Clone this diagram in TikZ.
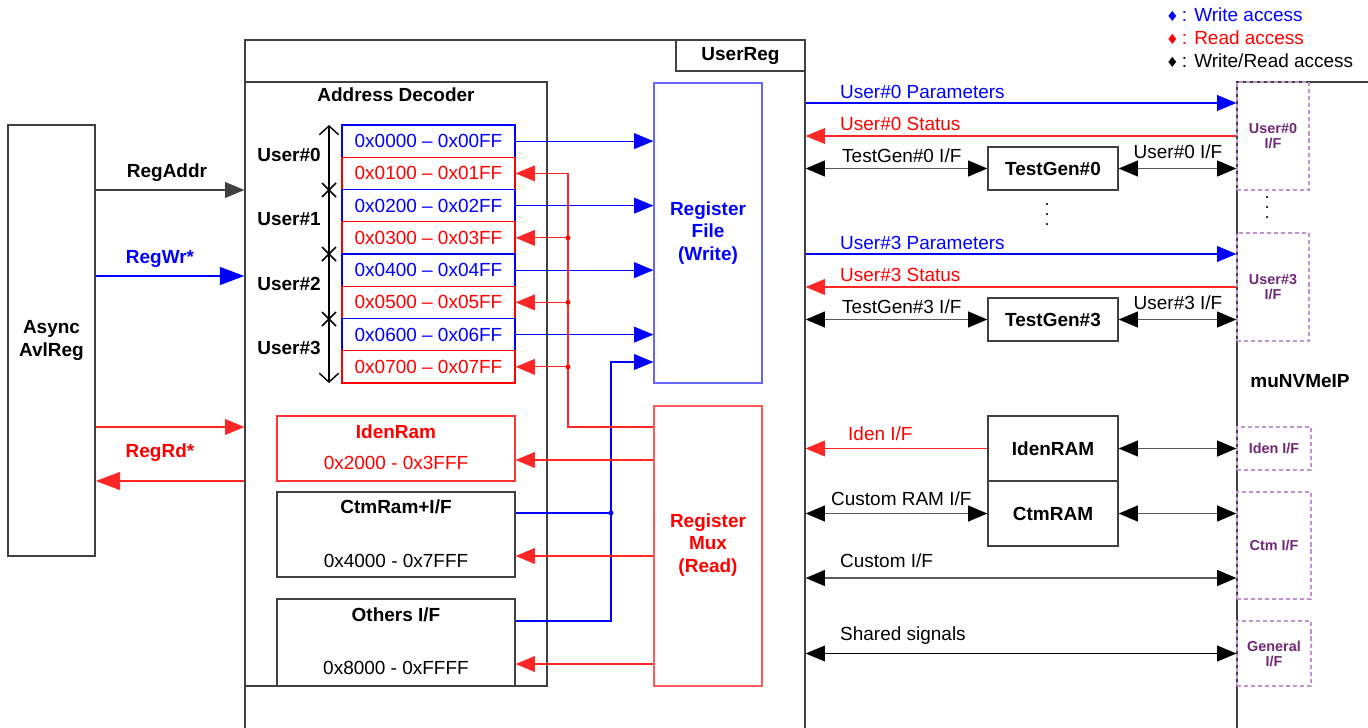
\documentclass[tikz,border=0pt]{standalone}
\usepackage{fontspec}
\setmainfont{Liberation Sans}
\newfontfamily\symfont{DejaVu Sans}
\usetikzlibrary{
    arrows.meta,
    fit
}
\definecolor{wrc}{RGB}{0,0,255}
\definecolor{rdc}{RGB}{255,0,0}
\definecolor{boxc}{RGB}{64,64,64}
\definecolor{busc}{RGB}{90,90,90}
\definecolor{ifc}{RGB}{195,145,210}
\definecolor{iftext}{RGB}{112,40,120}

\tikzset{
    blk/.style={draw=boxc, line width=0.7pt, inner sep=0pt},
    addr/.style={line width=0.7pt, inner sep=0pt},
    ifbox/.style={draw=ifc, dash pattern=on 2.3pt off 1.7pt, line width=0.6pt, inner sep=0pt},
    iflbl/.style={text=iftext, align=center, font=\fontsize{8.2}{8.6}\selectfont\bfseries},
    bl/.style={font=\fontsize{10.8}{13}\selectfont\bfseries},
    ln/.style={draw=black, line width=0.6pt},
    wr/.style={draw=wrc, line width=0.6pt},
    rd/.style={draw=rdc!85, line width=0.6pt},
    thk/.style={line width=1.6pt, >={Triangle[length=14pt,width=10pt]}},
    bus/.style={draw=busc, line width=1.1pt, >={Triangle[length=11pt,width=9pt,color=black]}},
    >={Triangle[length=11pt,width=9pt]}
}

\begin{document}
\begin{tikzpicture}[x=0.02cm,y=-0.02cm,font=\fontsize{10.8}{13}\selectfont]

\path[use as bounding box, clip] (0,0) rectangle (1368,727);

% Legend
\node[anchor=west, text=wrc] (lgwr) at (1160,15) {{\symfont\fontsize{8}{8}\selectfont ♦}\,: Write access};
\node[anchor=west, text=rdc] (lgrd) at (1160,38) {{\symfont\fontsize{8}{8}\selectfont ♦}\,: Read access};
\node[anchor=west] (lgwrrd) at (1160,61) {{\symfont\fontsize{8}{8}\selectfont ♦}\,: Write/Read access};

% Async AvlReg
\node[blk, fit={(8,125) (95,556)}] (avl) {};
\node[bl, align=center] (avlname) at (avl) {Async\\AvlReg};

% UserReg
\node[blk, fit={(245,40) (805,760)}] (ureg) {};
\node[blk, fit={(676,40) (805,71)}] (uregbox) {};
\node[bl] (uregname) at (uregbox) {UserReg};

% Address Decoder
\node[blk, fit={(245,82) (547,686)}] (dec) {};
\node[bl] (dectitle) at (396,95) {Address Decoder};

\foreach \i/\lo/\hi/\c in {0/0000/00FF/wrc, 1/0100/01FF/rdc, 2/0200/02FF/wrc,
    3/0300/03FF/rdc, 4/0400/04FF/wrc, 5/0500/05FF/rdc, 6/0600/06FF/wrc, 7/0700/07FF/rdc}{
    \node[addr, draw=\c, fit={(342,{125+32.25*\i}) (515,{125+32.25*(\i+1)})}] (r\i) {};
    \node[text=\c] (r\i-t) at (r\i) {0x\lo{} – 0x\hi};
}

% User spans
\draw[ln, line width=0.8pt, {Straight Barb[length=5pt,width=11pt]}-{Straight Barb[length=5pt,width=11pt]}] (329,125) -- (329,383);
\foreach \y in {190,254,319}{
    \draw[ln, line width=0.9pt] (322,{\y-7}) -- (336,{\y+7}) (322,{\y+7}) -- (336,{\y-7});
}
\foreach \i/\y in {0/155,1/219,2/284,3/348}{
    \node[bl] (usr\i) at (289,\y) {User\#\i};
}

% IdenRam, CtmRam, Others
\node[addr, draw=rdc!80, fit={(277,416) (515,481)}] (idenram) {};
\node[bl, text=rdc] (idenramname) at (396,432) {IdenRam};
\node[text=rdc] (idenramaddr) at (396,463) {0x2000 - 0x3FFF};
\node[blk, fit={(277,492) (515,577)}] (ctmram) {};
\node[bl] (ctmramname) at (396,507) {CtmRam+I/F};
\node (ctmramaddr) at (396,561) {0x4000 - 0x7FFF};
\node[blk, fit={(277,599) (515,686)}] (oth) {};
\node[bl] (othname) at (396,615) {Others I/F};
\node (othaddr) at (396,668) {0x8000 - 0xFFFF};

% Register File / Register Mux
\node[addr, draw=wrc!60, fit={(654,83) (762,383)}] (rf) {};
\node[bl, text=wrc, align=center] (rfname) at (708,233) {Register\\File\\(Write)};
\node[addr, draw=rdc!65, fit={(654,406) (762,686)}] (mux) {};
\node[bl, text=rdc, align=center] (muxname) at (708,545) {Register\\Mux\\(Read)};

% Write path
\foreach \i in {0,2,4,6}{
    \draw[wr,->] (r\i.east) -- (rf.west |- r\i.east);
}
\coordinate (wrtap) at (611,362);
\draw[wr,->] (oth.east |- 0,621) -| (wrtap) -- (rf.west |- wrtap);
\draw[wr] (ctmram.east |- 0,513) -- (wrtap |- 0,513);
\fill[wrc] (wrtap |- 0,513) circle (1.4pt);

% Read path
\coordinate (rdtap) at (568,427);
\draw[rd,->] (mux.west |- rdtap) -- (rdtap) |- (r1.east);
\foreach \i in {3,5,7}{
    \draw[rd,->] (rdtap |- r\i.east) -- (r\i.east);
    \fill[rdc] (rdtap |- r\i.east) circle (1.4pt);
}
\draw[rd,->] (mux.west |- 0,460) -- (idenram.east |- 0,460);
\draw[rd,->] (mux.west |- 0,556) -- (ctmram.east |- 0,556);
\draw[rd,->] (mux.west |- 0,664) -- (oth.east |- 0,664);

% Async AvlReg <-> UserReg
\draw[ln,draw=boxc,->] (avl.east |- 0,190) -- (ureg.west |- 0,190);
\node[bl] (regaddr) at (167,173) {RegAddr};
\draw[wr,thk,->] (avl.east |- 0,276) -- (ureg.west |- 0,276);
\node[bl, text=wrc] (regwr) at (160,259) {RegWr*};
\draw[rd,->] (avl.east |- 0,427) -- (ureg.west |- 0,427);
\draw[rd,thk,->] (ureg.west |- 0,481) -- (avl.east |- 0,481);
\node[bl, text=rdc] (regrd) at (160,453) {RegRd*};

% muNVMeIP
\node[blk, fit={(1237,82) (1420,760)}] (ip) {};
\node[bl] (ipname) at (1300,381) {muNVMeIP};

% User#0 .. User#3
\foreach \k/\dy in {0/0,3/151}{
    \node[ifbox, fit={(1237,{82+\dy}) (1309,{190+\dy})}] (uif\k) {};
    \node[iflbl] (uif\k-t) at (uif\k) {User\#\k\\I/F};
    \draw[wr,->] (ureg.east |- 0,{103+\dy}) -- (ip.west |- 0,{103+\dy});
    \node[anchor=west, text=wrc] (par\k) at (834,{92+\dy}) {User\#\k{} Parameters};
    \draw[rd,->] (ip.west |- 0,{136+\dy}) -- (ureg.east |- 0,{136+\dy});
    \node[anchor=west, text=rdc] (sta\k) at (834,{124+\dy}) {User\#\k{} Status};
    \node[blk, fit={(988,{147+\dy}) (1118,{190+\dy})}] (tg\k) {};
    \node[bl] (tg\k-t) at (tg\k) {TestGen\#\k};
    \draw[bus,<->] (ureg.east |- tg\k.west) -- (tg\k.west);
    \node[anchor=west] (tgif\k) at (836,{156+\dy}) {TestGen\#\k{} I/F};
    \draw[bus,<->] (tg\k.east) -- (ip.west |- tg\k.east);
    \node (usrif\k) at (1178,{152+\dy}) {User\#\k{} I/F};
}
\foreach \y in {204,214,224}{
    \fill (1047,\y) circle (0.7pt);
}
\foreach \y in {197,207,217}{
    \fill (1267,\y) circle (0.7pt);
}

% IdenRAM / CtmRAM
\node[ifbox, fit={(1237,427) (1311,470)}] (idenif) {};
\node[iflbl] (idenif-t) at (idenif) {Iden I/F};
\node[ifbox, fit={(1237,492) (1311,599)}] (ctmif) {};
\node[iflbl] (ctmif-t) at (ctmif) {Ctm I/F};
\node[ifbox, fit={(1237,621) (1311,686)}] (genif) {};
\node[iflbl] (genif-t) at (genif) {General\\I/F};
\node[blk, fit={(988,416) (1118,481)}] (iram) {};
\node[bl] (iram-t) at (iram) {IdenRAM};
\node[blk, fit={(988,481) (1118,546)}] (cram) {};
\node[bl] (cram-t) at (cram) {CtmRAM};
\draw[rd,->] (iram.west) -- (ureg.east |- iram.west);
\node[anchor=west, text=rdc] (idenlbl) at (842,434) {Iden I/F};
\draw[bus,<->] (iram.east) -- (ip.west |- iram.east);
\draw[bus,<->] (ureg.east |- cram.west) -- (cram.west);
\node[anchor=west] (cramlbl) at (825,499) {Custom RAM I/F};
\draw[bus,<->] (cram.east) -- (ip.west |- cram.east);

% Custom I/F, Shared signals
\draw[bus,<->] (ureg.east |- 0,578) -- (ip.west |- 0,578);
\node[anchor=west] (ctmlbl) at (834,561) {Custom I/F};
\draw[ln,<->] (ureg.east |- genif.west) -- (genif.west);
\node[anchor=west] (shrlbl) at (834,636) {Shared signals};

\end{tikzpicture}
\end{document}
